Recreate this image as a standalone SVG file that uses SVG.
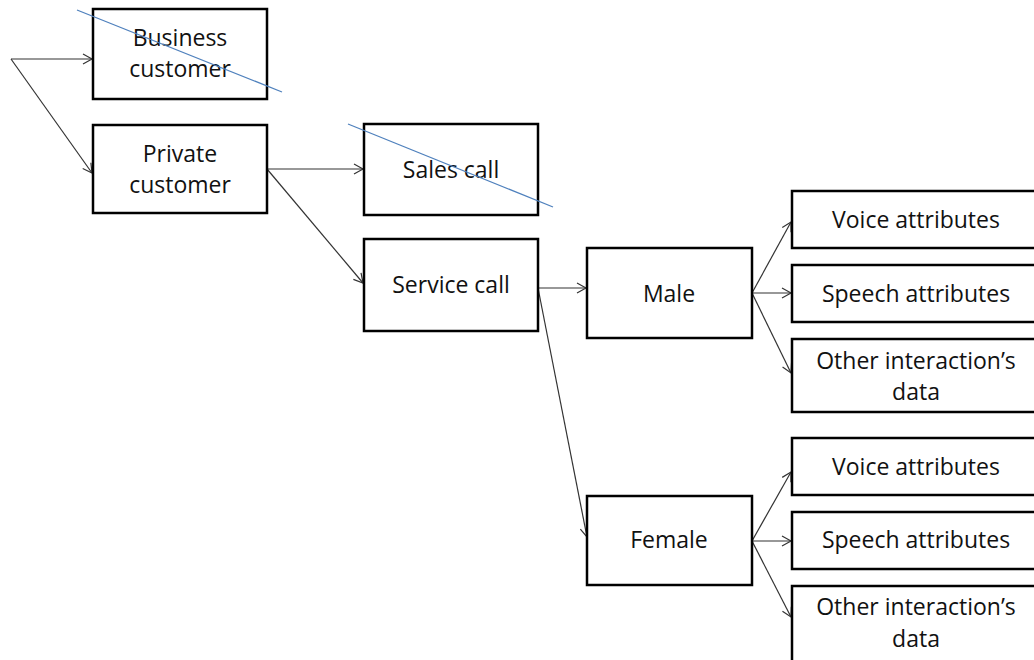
<svg xmlns="http://www.w3.org/2000/svg" width="1034" height="660" viewBox="0 0 1034 660">
<defs>
<marker id="arr" markerWidth="12" markerHeight="12" refX="10" refY="6" orient="auto" markerUnits="userSpaceOnUse">
<path d="M1,1 L10,6 L1,11" fill="none" stroke="#333" stroke-width="1.2"/>
</marker>
</defs>
<style>
.box{fill:#fff;stroke:#000;stroke-width:2.5}
.t{font-family:"Open Sans","Liberation Sans",sans-serif;font-size:23px;fill:#111;text-anchor:middle}
.c{fill:none;stroke:#333;stroke-width:1.2;marker-end:url(#arr)}
.strike{stroke:#4f81bd;stroke-width:1.3}
</style>
<rect width="1034" height="660" fill="#fff"/>
<g id="connectors">
<line class="c" x1="11" y1="59" x2="92" y2="59"/>
<line class="c" x1="11" y1="59" x2="92" y2="173"/>
<line class="c" x1="267" y1="169" x2="363" y2="169"/>
<line class="c" x1="267" y1="169" x2="363" y2="283"/>
<line class="c" x1="538" y1="288" x2="586" y2="288"/>
<line class="c" x1="538" y1="288" x2="587" y2="537"/>
<line class="c" x1="752" y1="293" x2="791" y2="222"/>
<line class="c" x1="752" y1="293" x2="791" y2="293"/>
<line class="c" x1="752" y1="293" x2="791" y2="373"/>
<line class="c" x1="752" y1="541" x2="791" y2="472"/>
<line class="c" x1="752" y1="541" x2="791" y2="541"/>
<line class="c" x1="752" y1="541" x2="791" y2="617"/>
</g>
<g id="business">
<rect class="box" x="93" y="9" width="174" height="90"/>
<text class="t" x="180" y="46">Business</text>
<text class="t" x="180" y="77">customer</text>
<line class="strike" x1="77" y1="10" x2="282" y2="92"/>
</g>
<g id="private">
<rect class="box" x="93" y="125" width="174" height="88"/>
<text class="t" x="180" y="162">Private</text>
<text class="t" x="180" y="193">customer</text>
</g>
<g id="sales">
<rect class="box" x="364" y="124" width="174" height="91"/>
<text class="t" x="451" y="178">Sales call</text>
<line class="strike" x1="348" y1="124" x2="553" y2="207"/>
</g>
<g id="service">
<rect class="box" x="364" y="239" width="174" height="92"/>
<text class="t" x="451" y="293">Service call</text>
</g>
<g id="male">
<rect class="box" x="587" y="248" width="165" height="90"/>
<text class="t" x="669" y="302">Male</text>
</g>
<g id="female">
<rect class="box" x="587" y="496" width="165" height="89"/>
<text class="t" x="669" y="548">Female</text>
</g>
<g id="male-voice">
<rect class="box" x="792" y="191" width="250" height="57"/>
<text class="t" x="916" y="228">Voice attributes</text>
</g>
<g id="male-speech">
<rect class="box" x="792" y="265" width="250" height="57"/>
<text class="t" x="916" y="302">Speech attributes</text>
</g>
<g id="male-other">
<rect class="box" x="792" y="339" width="250" height="73"/>
<text class="t" x="916" y="369">Other interaction’s</text>
<text class="t" x="916" y="400">data</text>
</g>
<g id="female-voice">
<rect class="box" x="792" y="438" width="250" height="57"/>
<text class="t" x="916" y="475">Voice attributes</text>
</g>
<g id="female-speech">
<rect class="box" x="792" y="512" width="250" height="57"/>
<text class="t" x="916" y="548">Speech attributes</text>
</g>
<g id="female-other">
<rect class="box" x="792" y="586" width="250" height="80"/>
<text class="t" x="916" y="615">Other interaction’s</text>
<text class="t" x="916" y="647">data</text>
</g>
</svg>
